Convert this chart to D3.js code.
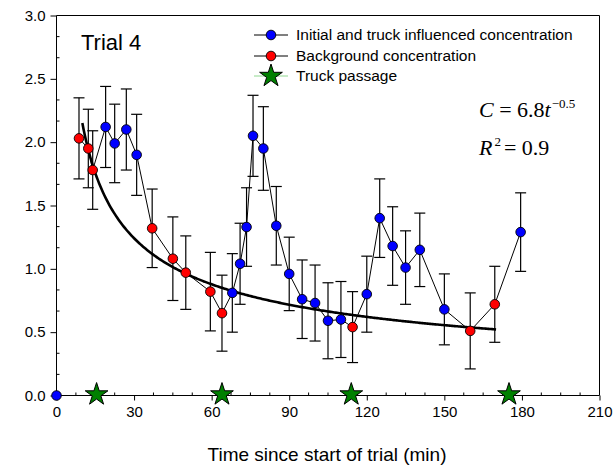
<!DOCTYPE html>
<html>
<head>
<meta charset="utf-8">
<script src="https://cdn.jsdelivr.net/npm/d3@7"></script>
<style>
  html, body { margin: 0; padding: 0; background: #fff; }
  svg { display: block; }
  text { fill: #000; }
</style>
</head>
<body>
<svg id="chart" width="615" height="470"></svg>
<script>
// Trial 4: particle concentration over time, with truck passages
const initTimes = [0, 19, 22.5, 27, 31, 68, 71, 73.5, 76, 80, 85, 90, 95, 100, 105, 110, 120, 125, 130, 135, 140.5, 150, 179.5];
const initConc  = [0, 2.12, 1.99, 2.10, 1.90, 0.81, 1.04, 1.33, 2.05, 1.95, 1.34, 0.96, 0.76, 0.73, 0.59, 0.60, 0.80, 1.40, 1.18, 1.01, 1.15, 0.68, 1.29];
const initErr   = [0, 0.32, 0.31, 0.32, 0.32, 0.31, 0.32, 0.31, 0.32, 0.33, 0.31, 0.29, 0.31, 0.30, 0.30, 0.30, 0.30, 0.31, 0.31, 0.29, 0.29, 0.28, 0.31];

const bgTimes = [8.7, 12.3, 14, 37, 45, 50, 59.5, 64, 114.5, 160, 169.5];
const bgConc  = [2.03, 1.95, 1.78, 1.32, 1.08, 0.97, 0.82, 0.65, 0.54, 0.51, 0.72];
const bgErr   = [0.32, 0.31, 0.31, 0.31, 0.33, 0.29, 0.31, 0.30, 0.28, 0.30, 0.30];

const truckTimes = [15.5, 64, 114, 175];

// Power-law fit C = a * t^b
const fitA = 6.8, fitB = -0.5, fitR2 = 0.9;
const fitStart = 10, fitEnd = 170;

const xTicks = [0, 30, 60, 90, 120, 150, 180, 210];
const yTicks = [0, 0.5, 1.0, 1.5, 2.0, 2.5, 3.0];

const legendLabels = ["Initial and truck influenced concentration", "Background concentration", "Truck passage"];

const BLUE = "#0000ff", RED = "#ff0000", GREEN = "#008000";
const SANS = "Arial, 'Liberation Sans', sans-serif";
const SERIF = "'Liberation Serif', 'Times New Roman', serif";

const svg = d3.select("#chart").style("font-family", SANS);
const L = 56.5, R = 599.5, T = 15.5, B = 395.5;

const x = d3.scaleLinear().domain([0, 210]).range([L, R]);
const y = d3.scaleLinear().domain([0, 3]).range([B, T]);

// frame
svg.append("line").attr("x1", L).attr("x2", R).attr("y1", T).attr("y2", T).attr("stroke", "#000");
svg.append("line").attr("x1", R).attr("x2", R).attr("y1", T).attr("y2", B).attr("stroke", "#000");

// minor ticks point inward, major ticks outward
const xMinor = d3.range(0, 210.01, 7.5).filter(v => v % 30 !== 0);
const yMinor = d3.range(0, 3.001, 0.5 / 3).filter(v => Math.abs(v * 2 - Math.round(v * 2)) > 1e-6);

const xAxis = svg.append("g").attr("transform", `translate(0,${B})`)
  .call(d3.axisBottom(x).tickValues(xTicks).tickFormat(d3.format("d")).tickSize(5).tickPadding(6));
xAxis.attr("font-family", SANS);
xAxis.select(".domain").attr("stroke", "#000").attr("d", `M${L},0H${R}`);
xAxis.selectAll("text").attr("font-size", 15);
xAxis.append("g").selectAll("line").data(xMinor).join("line")
  .attr("x1", d => x(d)).attr("x2", d => x(d)).attr("y1", 0).attr("y2", -3).attr("stroke", "#000");

const yAxis = svg.append("g").attr("transform", `translate(${L},0)`)
  .call(d3.axisLeft(y).tickValues(yTicks).tickFormat(d3.format(".1f")).tickSize(6).tickPadding(5));
yAxis.attr("font-family", SANS);
yAxis.select(".domain").attr("stroke", "#000").attr("d", `M0,${T}V${B}`);
yAxis.selectAll("text").attr("font-size", 15);
yAxis.append("g").selectAll("line").data(yMinor).join("line")
  .attr("x1", 0).attr("x2", 3).attr("y1", d => y(d)).attr("y2", d => y(d)).attr("stroke", "#000");

// axis title
svg.append("text").attr("x", 327).attr("y", 461).attr("text-anchor", "middle")
  .attr("font-size", 19).text("Time since start of trial (min)");

// title
svg.append("text").attr("x", 81).attr("y", 50).attr("font-size", 22).text("Trial 4");

// combine both series in time order for the connecting line and error bars
const initPts = initTimes.map((t, i) => ({ t, c: initConc[i], e: initErr[i], kind: "init" }));
const bgPts = bgTimes.map((t, i) => ({ t, c: bgConc[i], e: bgErr[i], kind: "bg" }));
const allPts = initPts.concat(bgPts).sort((a, b) => a.t - b.t);
const measured = allPts.filter(d => d.t > 0);

// error bars
const eb = svg.append("g").attr("stroke", "#000").attr("stroke-width", 1.2);
measured.forEach(d => {
  const cx = x(d.t), cap = 5.5;
  eb.append("line").attr("x1", cx).attr("x2", cx).attr("y1", y(d.c + d.e)).attr("y2", y(d.c - d.e));
  eb.append("line").attr("x1", cx - cap).attr("x2", cx + cap).attr("y1", y(d.c + d.e)).attr("y2", y(d.c + d.e));
  eb.append("line").attr("x1", cx - cap).attr("x2", cx + cap).attr("y1", y(d.c - d.e)).attr("y2", y(d.c - d.e));
});

// connecting line
svg.append("path").datum(measured)
  .attr("fill", "none").attr("stroke", "#000").attr("stroke-width", 1)
  .attr("d", d3.line().x(d => x(d.t)).y(d => y(d.c)));

// fitted curve
const fitT = d3.range(fitStart, fitEnd + 0.001, 0.5);
svg.append("path").datum(fitT)
  .attr("fill", "none").attr("stroke", "#000").attr("stroke-width", 2.6)
  .attr("d", d3.line().x(t => x(t)).y(t => y(fitA * Math.pow(t, fitB))));

// markers
svg.append("g").selectAll("circle").data(allPts).join("circle")
  .attr("cx", d => x(d.t)).attr("cy", d => y(d.c)).attr("r", 4.8)
  .attr("fill", d => d.kind === "init" ? BLUE : RED)
  .attr("stroke", "#000").attr("stroke-width", 0.9);

// star shape
const star = d3.symbol().type(d3.symbolStar).size(160);
svg.append("g").selectAll("path").data(truckTimes).join("path")
  .attr("d", star)
  .attr("transform", t => `translate(${x(t)},${y(0) - 1})`)
  .attr("fill", GREEN).attr("stroke", "#000").attr("stroke-width", 1);

// legend
const lg = svg.append("g");
const rowsY = [35, 56, 76];
const lx1 = 254, lx2 = 288, lmx = 271, ltx = 296;
[0, 1].forEach(i => {
  lg.append("line").attr("x1", lx1).attr("x2", lx2).attr("y1", rowsY[i]).attr("y2", rowsY[i])
    .attr("stroke", "#000").attr("stroke-width", 1);
  lg.append("circle").attr("cx", lmx).attr("cy", rowsY[i]).attr("r", 4.8)
    .attr("fill", i === 0 ? BLUE : RED).attr("stroke", "#000").attr("stroke-width", 0.9);
});
lg.append("line").attr("x1", lx1).attr("x2", lx2).attr("y1", rowsY[2]).attr("y2", rowsY[2])
  .attr("stroke", "#90d890").attr("stroke-width", 1);
lg.append("path").attr("d", star).attr("transform", `translate(${lmx},${rowsY[2]})`)
  .attr("fill", GREEN).attr("stroke", "#000").attr("stroke-width", 1);
legendLabels.forEach((s, i) => {
  lg.append("text").attr("x", ltx).attr("y", rowsY[i] + 5).attr("font-size", 15.5).text(s);
});

// equation
const eq1 = svg.append("text").attr("x", 479).attr("y", 117).attr("font-size", 22).style("font-family", SERIF);
eq1.append("tspan").attr("font-style", "italic").text("C");
eq1.append("tspan").text(" = " + fitA.toFixed(1));
eq1.append("tspan").attr("font-style", "italic").text("t");
eq1.append("tspan").attr("font-size", 13).attr("dy", -9).attr("dx", 1).text("\u2212" + Math.abs(fitB).toFixed(1));

const eq2 = svg.append("text").attr("x", 479).attr("y", 155).attr("font-size", 22).style("font-family", SERIF);
eq2.append("tspan").attr("font-style", "italic").text("R");
eq2.append("tspan").attr("font-size", 13).attr("dy", -9).attr("dx", 2).text("2");
eq2.append("tspan").attr("dy", 9).attr("dx", 3).text("= " + fitR2.toFixed(1));
</script>
</body>
</html>
